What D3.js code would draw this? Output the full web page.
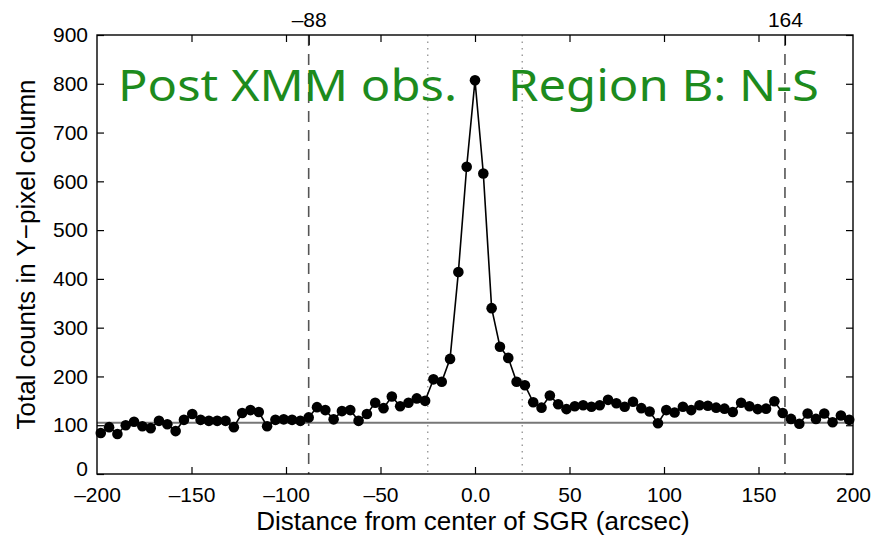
<!DOCTYPE html>
<html>
<head>
<meta charset="utf-8">
<script src="https://cdn.jsdelivr.net/npm/d3@7"></script>
<style>
  html, body { margin: 0; padding: 0; background: #fff; }
  svg { display: block; }
  .tick text { font-family: 'Liberation Sans', Arial, Helvetica, sans-serif; font-size: 21px; fill: #000; }
</style>
</head>
<body>
<svg id="chart" width="877" height="539"></svg>
<script>
// ---- data ----
const distance = [-198, -193.6, -189.2, -184.8, -180.4, -176, -171.6, -167.2, -162.8, -158.4,
  -154, -149.6, -145.2, -140.8, -136.4, -132, -127.6, -123.2, -118.8, -114.4,
  -110, -105.6, -101.2, -96.8, -92.4, -88, -83.6, -79.2, -74.8, -70.4,
  -66, -61.6, -57.2, -52.8, -48.4, -44, -39.6, -35.2, -30.8, -26.4,
  -22, -17.6, -13.2, -8.8, -4.4, 0, 4.4, 8.8, 13.2, 17.6,
  22, 26.4, 30.8, 35.2, 39.6, 44, 48.4, 52.8, 57.2, 61.6,
  66, 70.4, 74.8, 79.2, 83.6, 88, 92.4, 96.8, 101.2, 105.6,
  110, 114.4, 118.8, 123.2, 127.6, 132, 136.4, 140.8, 145.2, 149.6,
  154, 158.4, 162.8, 167.2, 171.6, 176, 180.4, 184.8, 189.2, 193.6, 198];
const counts = [84, 96, 82, 100, 107, 98, 94, 109, 102, 88,
  111, 123, 111, 109, 109, 109, 96, 125, 131, 127,
  98, 111, 112, 111, 109, 116, 137, 131, 112, 129,
  131, 109, 123, 146, 135, 159, 139, 146, 155, 150,
  194, 189, 236, 414, 630, 807, 616, 340, 261, 238,
  189, 182, 147, 136, 161, 143, 133, 139, 141, 138,
  141, 152, 145, 138, 148, 135, 128, 104, 131, 126,
  138, 131, 141, 140, 136, 134, 127, 146, 139, 133,
  134, 149, 125, 113, 103, 124, 113, 124, 106, 120, 111];
const backgroundLevel = 105;
const regionEdges = [-88, 164];
const coreEdges = [-25, 25];
const xTicks = [-200, -150, -100, -50, 0, 50, 100, 150, 200];
const xTickLabels = ['\u2013200', '\u2013150', '\u2013100', '\u201350', '0.0', '50', '100', '150', '200'];
const topTicks = [-150, -100, -50, 0, 50, 100, 150];
const topLabels = ['\u201388', '164'];
const yTicks = [0, 100, 200, 300, 400, 500, 600, 700, 800, 900];
const xLabel = 'Distance from center of SGR (arcsec)';
const yLabel = 'Total counts in Y\u2212pixel column';
const titleLeft = 'Post XMM obs.';
const titleRight = 'Region B: N-S';

// ---- layout ----
const svg = d3.select('#chart');
const L = 97, R = 853, T = 35, B = 474;
const x = d3.scaleLinear().domain([-200, 200]).range([L, R]);
const y = d3.scaleLinear().domain([0, 900]).range([B, T]);
const font = "'Liberation Sans', Arial, Helvetica, sans-serif";

// guide lines
svg.selectAll('line.edge').data(regionEdges).join('line')
  .attr('class', 'edge')
  .attr('x1', d => x(d)).attr('x2', d => x(d))
  .attr('y1', T).attr('y2', B)
  .attr('stroke', '#555').attr('stroke-width', 1.6)
  .attr('stroke-dasharray', '11,8');
svg.selectAll('line.core').data(coreEdges).join('line')
  .attr('class', 'core')
  .attr('x1', d => x(d)).attr('x2', d => x(d))
  .attr('y1', T).attr('y2', B)
  .attr('stroke', '#999').attr('stroke-width', 1.4)
  .attr('stroke-dasharray', '1.5,5');

// background level
svg.append('line')
  .attr('x1', x(-200)).attr('x2', x(200))
  .attr('y1', y(backgroundLevel)).attr('y2', y(backgroundLevel))
  .attr('stroke', '#777').attr('stroke-width', 2);

// axes
const gB = svg.append('g').attr('transform', `translate(0,${B})`)
  .call(d3.axisBottom(x).tickValues(xTicks).tickSize(-7).tickPadding(13)
    .tickFormat((d, i) => xTickLabels[i]));
const gL = svg.append('g').attr('transform', `translate(${L},0)`)
  .call(d3.axisLeft(y).tickValues(yTicks).tickSize(-7).tickPadding(9));
const gT = svg.append('g').attr('transform', `translate(0,${T})`)
  .call(d3.axisTop(x).tickValues(topTicks).tickSize(-7).tickFormat(''));
const gT2 = svg.append('g').attr('transform', `translate(0,${T})`)
  .call(d3.axisTop(x).tickValues(regionEdges).tickSize(-10).tickPadding(8)
    .tickFormat((d, i) => topLabels[i]));
const gR = svg.append('g').attr('transform', `translate(${R},0)`)
  .call(d3.axisRight(y).tickValues(yTicks).tickSize(-7).tickFormat(''));
[gB, gL, gT, gT2, gR].forEach(g => {
  g.select('.domain').remove();
  g.selectAll('.tick line').attr('stroke', '#000').attr('stroke-width', 1.2);
});
gB.selectAll('.tick').filter(d => d === -200 || d === 200).select('line').remove();
gL.selectAll('.tick').filter(d => d === 0).select('text').attr('dy', '0.05em');
gT2.selectAll('.tick text').attr('dy', '0');

// frame
svg.append('rect')
  .attr('x', L).attr('y', T).attr('width', R - L).attr('height', B - T)
  .attr('fill', 'none').attr('stroke', '#000').attr('stroke-width', 1.4);

// data line and markers
const pts = distance.map((d, i) => [d, counts[i]]);
svg.append('path').datum(pts)
  .attr('fill', 'none').attr('stroke', '#000').attr('stroke-width', 1.6)
  .attr('d', d3.line().x(d => x(d[0])).y(d => y(d[1])));
svg.selectAll('circle.pt').data(pts).join('circle')
  .attr('class', 'pt')
  .attr('cx', d => x(d[0])).attr('cy', d => y(d[1]))
  .attr('r', 5.3).attr('fill', '#000');

// axis labels
svg.append('text')
  .attr('x', (L + R) / 2 - 2).attr('y', 530)
  .attr('text-anchor', 'middle')
  .attr('font-family', font).attr('font-size', 26)
  .text(xLabel);
svg.append('text')
  .attr('transform', `translate(35,${(T + B) / 2}) rotate(-90)`)
  .attr('text-anchor', 'middle')
  .attr('font-family', font).attr('font-size', 26)
  .text(yLabel);

// green annotations
const green = '#1d8b1d';
const gfont = "'Comic Sans MS', 'Noto Sans', 'DejaVu Sans', sans-serif";
svg.append('text')
  .attr('x', 118).attr('y', 101)
  .attr('font-family', gfont).attr('font-size', 44).attr('fill', green)
  .attr('textLength', 339).attr('lengthAdjust', 'spacingAndGlyphs')
  .text(titleLeft);
svg.append('text')
  .attr('x', 508).attr('y', 101)
  .attr('font-family', gfont).attr('font-size', 44).attr('fill', green)
  .attr('textLength', 311).attr('lengthAdjust', 'spacingAndGlyphs')
  .text(titleRight);
</script>
</body>
</html>
